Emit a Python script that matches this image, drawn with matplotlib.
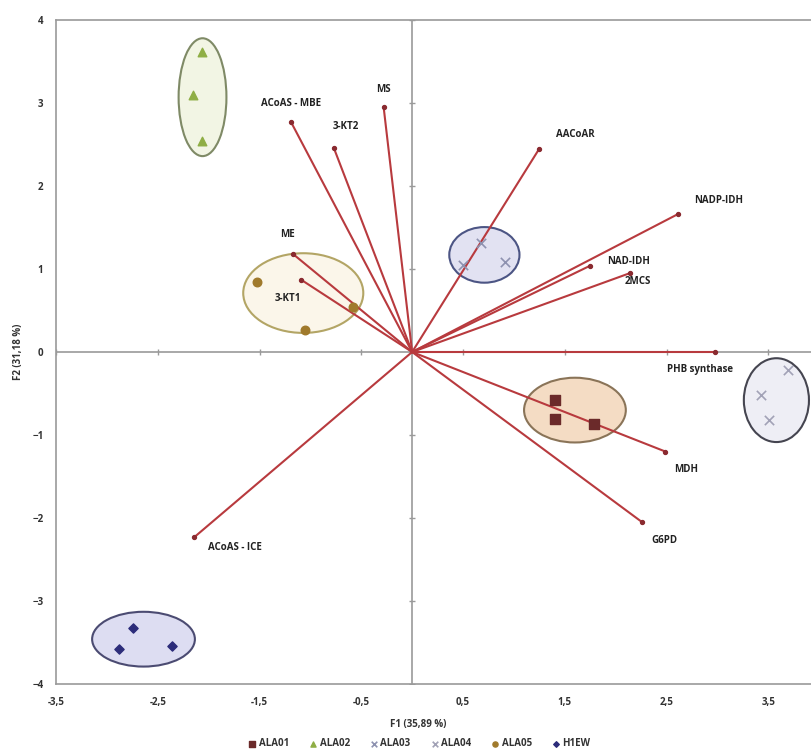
import matplotlib
matplotlib.use("Agg")
import matplotlib.pyplot as plt
from matplotlib.patches import Ellipse

plt.rcParams['font.family'] = ['Open Sans', 'DejaVu Sans']

# ---- data ----
groups = ["ALA01", "ALA02", "ALA03", "ALA04", "ALA05", "H1EW"]
ala01_x = [1.40, 1.40, 1.79]; ala01_y = [-0.58, -0.81, -0.87]
ala02_x = [-2.07, -2.15, -2.07]; ala02_y = [3.61, 3.10, 2.54]
ala03_x = [0.68, 0.91, 0.50]; ala03_y = [1.31, 1.08, 1.05]
ala04_x = [3.69, 3.43, 3.51]; ala04_y = [-0.22, -0.52, -0.82]
ala05_x = [-1.52, -1.05, -0.58]; ala05_y = [0.84, 0.27, 0.54]
h1ew_x = [-2.74, -2.88, -2.36]; h1ew_y = [-3.33, -3.58, -3.54]

var_names = ["ACoAS - MBE", "3-KT2", "MS", "AACoAR", "NADP-IDH", "NAD-IDH", "2MCS",
             "ME", "3-KT1", "PHB synthase", "MDH", "G6PD", "ACoAS - ICE"]
var_x = [-1.19, -0.77, -0.28, 1.25, 2.61, 1.75, 2.14, -1.17, -1.09, 2.98, 2.49, 2.26, -2.14]
var_y = [2.77, 2.46, 2.95, 2.45, 1.66, 1.04, 0.95, 1.18, 0.87, 0.00, -1.20, -2.05, -2.23]
# label offsets (data units) relative to vector tip
lab_dx = [0.0, 0.12, 0.0, 0.35, 0.40, 0.38, 0.08, -0.05, -0.13, -0.15, 0.20, 0.22, 0.40]
lab_dy = [0.22, 0.26, 0.21, 0.17, 0.16, 0.05, -0.10, 0.24, -0.22, -0.21, -0.21, -0.22, -0.13]

# ellipses: center x, center y, width, height
ell_cx = [1.60, -2.06, 0.71, 3.58, -1.07, -2.64]
ell_cy = [-0.70, 3.07, 1.17, -0.58, 0.71, -3.46]
ell_w = [1.00, 0.47, 0.69, 0.64, 1.18, 1.01]
ell_h = [0.78, 1.42, 0.67, 1.01, 0.96, 0.66]
ell_face = ["#F4DCC4", "#F2F5E4", "#E2E2F2", "#EEEEF5", "#FBF6EA", "#DDDDF2"]
ell_edge = ["#8A7458", "#7F8A66", "#4C5584", "#454550", "#B3A565", "#4B4B72"]

xticks = [-3.5, -2.5, -1.5, -0.5, 0.5, 1.5, 2.5, 3.5]
xticklabels = ["-3,5", "-2,5", "-1,5", "-0,5", "0,5", "1,5", "2,5", "3,5"]
yticks = [-4, -3, -2, -1, 0, 1, 2, 3, 4]

# ---- figure ----
fig = plt.figure(figsize=(8.11, 7.56), dpi=100)
ax = fig.add_axes([56/811, 1-684/756, 1-56/811, (684-20)/756])
ax.set_xlim(-3.5, 3.92)
ax.set_ylim(-4, 4)

for s in ['left', 'bottom', 'top']:
    ax.spines[s].set_color('#9A9A9A')
    ax.spines[s].set_linewidth(1.2)
ax.spines['right'].set_visible(False)

ax.set_xticks(xticks)
ax.set_xticklabels(xticklabels)
ax.set_yticks(yticks)
ax.tick_params(axis='both', length=0, labelsize=7, colors='#333333', pad=9)
for t in ax.get_xticklabels() + ax.get_yticklabels():
    t.set_fontweight('bold')

# center lines
ax.axhline(0, color='#9A9A9A', lw=1.2, zorder=1)
ax.axvline(0, color='#9A9A9A', lw=1.2, zorder=1)
ax.scatter(xticks, [0]*len(xticks), marker='|', s=20, color='#9A9A9A', lw=1, zorder=1)
ax.scatter([0]*len(yticks), yticks, marker='_', s=20, color='#9A9A9A', lw=1, zorder=1)

# ellipses
for cx, cy, w, h, fc, ec in zip(ell_cx, ell_cy, ell_w, ell_h, ell_face, ell_edge):
    ax.add_patch(Ellipse((cx, cy), w, h, facecolor=fc, edgecolor=ec, lw=1.5, zorder=2))

# vectors
vec_col = '#B83A3E'
for name, vx, vy, dx, dy in zip(var_names, var_x, var_y, lab_dx, lab_dy):
    ax.plot([0, vx], [0, vy], color=vec_col, lw=1.5, zorder=3)
    ax.scatter([vx], [vy], s=8, color='#8A2A30', zorder=4)
    ax.text(vx + dx, vy + dy, name, fontsize=7, fontweight='bold', color='#222222',
            ha='center', va='center', zorder=5)

# points
ax.scatter(ala01_x, ala01_y, marker='s', s=42, color='#6B2A2A', zorder=6, label=groups[0])
ax.scatter(ala02_x, ala02_y, marker='^', s=38, color='#8FAE45', zorder=6, label=groups[1])
ax.scatter(ala03_x, ala03_y, marker='x', s=45, color='#8E92B0', lw=1.2, zorder=6, label=groups[2])
ax.scatter(ala04_x, ala04_y, marker='x', s=45, color='#A2A2B6', lw=1.2, zorder=6, label=groups[3])
ax.scatter(ala05_x, ala05_y, marker='o', s=38, color='#A07A2C', zorder=6, label=groups[4])
ax.scatter(h1ew_x, h1ew_y, marker='D', s=22, color='#2C2C7A', zorder=6, label=groups[5])

# axis titles
fig.text(418/811, 1-724/756, "F1 (35,89 %)", fontsize=7, fontweight='bold',
         ha='center', va='center', color='#333333')
fig.text(18/811, 1-352/756, "F2 (31,18 %)", fontsize=7, fontweight='bold',
         ha='center', va='center', rotation=90, color='#333333')

leg = fig.legend(loc='center', bbox_to_anchor=(419/811, 1-744/756), ncol=6, frameon=False,
                 fontsize=7, handletextpad=0.15, columnspacing=2.0, markerscale=0.6,
                 handlelength=1.0)
for t in leg.get_texts():
    t.set_fontweight('bold')
    t.set_color('#333333')

fig.savefig("out.png", dpi=100)
